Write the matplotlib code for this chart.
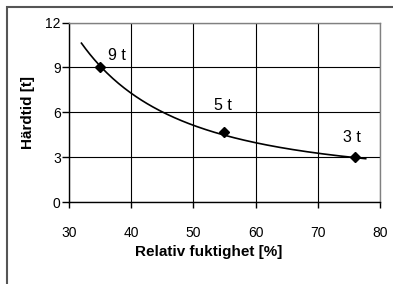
import numpy as np
import matplotlib
matplotlib.use("Agg")
from matplotlib import pyplot as plt
from matplotlib.patches import Rectangle

plt.rcParams['font.family'] = ['Liberation Sans', 'DejaVu Sans']

# measured points
humidity = [35, 55, 76]
hours = [9.0, 4.7, 3.0]
point_labels = ["9 t", "5 t", "3 t"]
label_x = [36.2, 53.3, 74.0]
label_y = [9.47, 6.13, 4.02]

# trendline
trend_x = [32, 35, 40, 44.8, 50, 55, 59.1, 70, 77.7]
trend_y = [10.73, 9.0, 7.25, 6.0, 5.13, 4.51, 3.98, 3.29, 2.95]

x_ticks = [30, 40, 50, 60, 70, 80]
y_ticks = [0, 3, 6, 9, 12]

fig = plt.figure(figsize=(3.93, 2.84), dpi=100)
ax = fig.add_axes([69 / 393, 1 - 202 / 284, 311 / 393, 179.5 / 284])

# trendline y = c + a / x^2 fitted to the read samples
tx = np.array(trend_x)
A = np.column_stack([np.ones_like(tx), 1 / tx ** 2])
coef = np.linalg.lstsq(A, np.array(trend_y), rcond=None)[0]
xx = np.linspace(min(trend_x), max(trend_x), 200)
ax.plot(xx, coef[0] + coef[1] / xx ** 2, color='black', lw=1.2, zorder=3)

ax.plot(humidity, hours, linestyle='none', marker='D', ms=5.5,
        color='black', zorder=4)
for lx, ly, txt in zip(label_x, label_y, point_labels):
    ax.text(lx, ly, txt, fontsize=11.5, ha='left', va='baseline')

ax.set_xlim(30, 80)
ax.set_ylim(0, 12)
ax.set_xticks(x_ticks)
ax.set_yticks(y_ticks)
ax.grid(True, color='black', lw=0.8)
ax.set_axisbelow(True)

for s in ['top', 'right']:
    ax.spines[s].set_color('#808080')
    ax.spines[s].set_linewidth(1.0)
for s in ['left', 'bottom']:
    ax.spines[s].set_color('black')
    ax.spines[s].set_linewidth(1.0)

ax.tick_params(axis='x', direction='out', length=4, width=1, pad=13, labelsize=10)
ax.tick_params(axis='y', direction='out', length=5, width=1, pad=1, labelsize=10)

ax.set_xlabel("Relativ fuktighet [%]", fontsize=11, fontweight='bold')
ax.set_ylabel("Härdtid [t]", fontsize=11, fontweight='bold')
ax.xaxis.set_label_coords((209 - 69) / 311, -(252 - 202) / 179.5)
ax.yaxis.set_label_coords(-(69 - 28) / 311, 0.5)
ax.xaxis.label.set_va('center')
ax.yaxis.label.set_va('center')

# outer chart border (cut off at right and bottom)
fig.patches.append(Rectangle((7 / 393, -0.1), 1.2, 1 - 7 / 284 + 0.1,
                             transform=fig.transFigure, fill=False,
                             edgecolor='#555555', lw=1.5))

fig.savefig("out.png", dpi=100)
